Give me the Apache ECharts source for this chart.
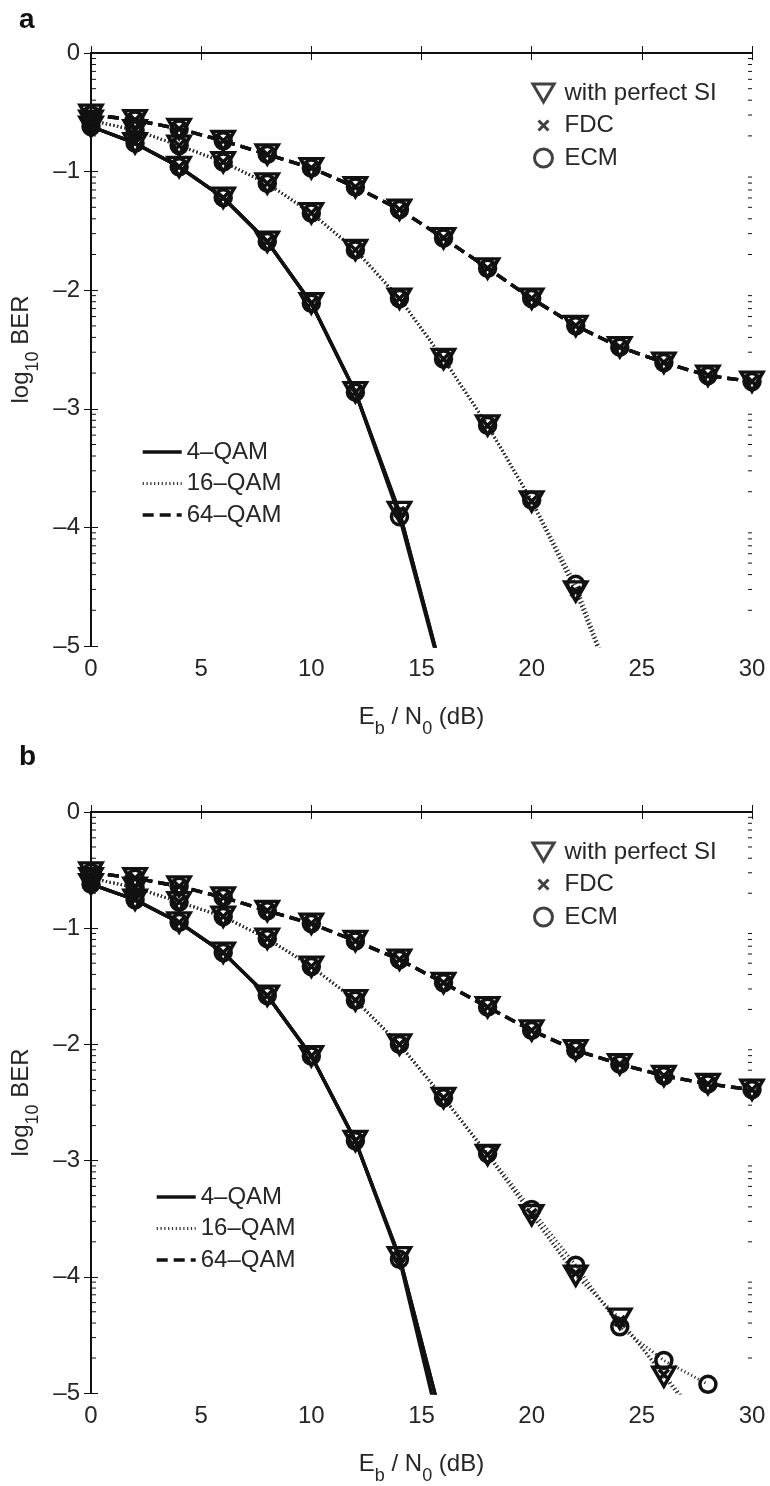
<!DOCTYPE html>
<html><head><meta charset="utf-8">
<script src="https://cdn.jsdelivr.net/npm/echarts@6/dist/echarts.min.js"></script>
<style>html,body{margin:0;padding:0;background:#fff}#c{width:770px;height:1486px}</style>
</head><body><div id="c"></div>
<script>
// ---------- data ----------
const EBN0 = [0, 2, 4, 6, 8, 10, 12, 14, 16, 18, 20, 22, 24, 26, 28, 30];
const X_MIN = 0, X_MAX = 30, X_STEP = 5;
const Y_MIN = -5, Y_MAX = 0, Y_STEP = 1;
const LOG_MINOR_FRAC = [0.301, 0.477, 0.602, 0.699, 0.778, 0.845, 0.903, 0.954];
const METHODS = ['with perfect SI', 'FDC', 'ECM'];
const MODS = ['4–QAM', '16–QAM', '64–QAM'];
const N = null;

// panel a
const A_4QAM_SI   = [-0.62, -0.76, -0.96, -1.22, -1.59, -2.11, -2.86, -3.87, -5.28, N, N, N, N, N, N, N];
const A_4QAM_FDC  = [-0.62, -0.76, -0.96, -1.22, -1.59, -2.11, -2.86, -3.87, -5.28, N, N, N, N, N, N, N];
const A_4QAM_ECM  = [-0.62, -0.76, -0.96, -1.22, -1.59, -2.11, -2.86, -3.91, -5.30, N, N, N, N, N, N, N];
const A_16QAM_SI  = [-0.57, -0.65, -0.78, -0.92, -1.10, -1.35, -1.66, -2.07, -2.58, -3.14, -3.78, -4.54, -5.50, N, N, N];
const A_16QAM_FDC = [-0.57, -0.65, -0.78, -0.92, -1.10, -1.35, -1.66, -2.07, -2.58, -3.14, -3.78, -4.54, -5.50, N, N, N];
const A_16QAM_ECM = [-0.57, -0.65, -0.78, -0.92, -1.10, -1.35, -1.66, -2.07, -2.58, -3.14, -3.77, -4.48, -5.48, N, N, N];
const A_64QAM_SI  = [-0.52, -0.565, -0.64, -0.74, -0.855, -0.97, -1.13, -1.32, -1.56, -1.815, -2.07, -2.30, -2.48, -2.61, -2.72, -2.77];
const A_64QAM_FDC = [-0.52, -0.565, -0.64, -0.74, -0.855, -0.97, -1.13, -1.32, -1.56, -1.815, -2.07, -2.30, -2.48, -2.61, -2.72, -2.77];
const A_64QAM_ECM = [-0.52, -0.565, -0.64, -0.74, -0.855, -0.97, -1.13, -1.32, -1.56, -1.815, -2.07, -2.30, -2.48, -2.61, -2.72, -2.77];

// panel b
const B_4QAM_SI   = [-0.62, -0.755, -0.95, -1.21, -1.58, -2.10, -2.83, -3.83, -5.29, N, N, N, N, N, N, N];
const B_4QAM_FDC  = [-0.62, -0.755, -0.95, -1.21, -1.58, -2.10, -2.83, -3.83, -5.29, N, N, N, N, N, N, N];
const B_4QAM_ECM  = [-0.62, -0.755, -0.95, -1.21, -1.58, -2.10, -2.83, -3.85, -5.44, N, N, N, N, N, N, N];
const B_16QAM_SI  = [-0.57, -0.65, -0.775, -0.90, -1.09, -1.33, -1.62, -2.00, -2.46, -2.95, -3.47, -3.99, -4.36, -4.86, -5.33, N];
const B_16QAM_FDC = [-0.57, -0.65, -0.775, -0.90, -1.09, -1.33, -1.62, -2.00, -2.46, -2.95, -3.46, -3.97, -4.38, -4.84, -5.30, N];
const B_16QAM_ECM = [-0.57, -0.65, -0.775, -0.90, -1.09, -1.33, -1.62, -2.00, -2.46, -2.94, -3.42, -3.90, -4.43, -4.72, -4.925, N];
const B_64QAM_SI  = [-0.52, -0.57, -0.64, -0.735, -0.85, -0.96, -1.11, -1.27, -1.47, -1.68, -1.88, -2.05, -2.17, -2.27, -2.34, -2.39];
const B_64QAM_FDC = [-0.52, -0.57, -0.64, -0.735, -0.85, -0.96, -1.11, -1.27, -1.47, -1.68, -1.88, -2.05, -2.17, -2.27, -2.34, -2.39];
const B_64QAM_ECM = [-0.52, -0.57, -0.64, -0.735, -0.85, -0.96, -1.11, -1.27, -1.47, -1.68, -1.88, -2.05, -2.17, -2.27, -2.34, -2.39];

const PANELS = [
  {label: 'a', data: [[A_4QAM_SI, A_4QAM_FDC, A_4QAM_ECM], [A_16QAM_SI, A_16QAM_FDC, A_16QAM_ECM], [A_64QAM_SI, A_64QAM_FDC, A_64QAM_ECM]]},
  {label: 'b', data: [[B_4QAM_SI, B_4QAM_FDC, B_4QAM_ECM], [B_16QAM_SI, B_16QAM_FDC, B_16QAM_ECM], [B_64QAM_SI, B_64QAM_FDC, B_64QAM_ECM]]}
];

// ---------- styles ----------
const FONT = 'Liberation Sans, Arial, Helvetica, sans-serif';
const INK = '#111111';
const TXT = '#262626';
const GRIDS = [
  {left: 91, top: 53, width: 661, height: 593},
  {left: 91, top: 812, width: 661, height: 593}
];
const TITLE_POS = [{left: 19, top: 6}, {left: 19, top: 743}];
const LEG1_POS = [{left: 526, top: 81}, {left: 526, top: 840}];
const LEG2_POS = [{left: 141, top: 440}, {left: 155, top: 1185}];

const MOD_LINE = [
  {color: INK, width: 3.4, type: 'solid'},
  {color: '#333', width: 3, type: [1.2, 2.6], cap: 'butt'},
  {color: INK, width: 3.4, type: [11, 6]}
];
const MARK = [
  {symbol: 'path://M0,0L20,0L10,17Z', size: [22, 19]},
  {symbol: 'path://M0,0L10,10M10,0L0,10', size: [10, 10]},
  {symbol: 'circle', size: 16}
];
const LEG_MARK = [
  'path://M0,0L20,0L10,17Z',
  'path://M-11,-4M21,14M0,0L10,10M10,0L0,10',
  'path://M-7,0M25,0M0,9A9,9,0,1,1,18,9A9,9,0,1,1,0,9Z'
];
const HOLLOW = {color: 'rgba(0,0,0,0)', borderColor: INK, borderWidth: 3.5};

const fmtY = v => String(v).replace('-', '–');
const richName = {
  n: {fontSize: 24, color: TXT, fontFamily: FONT},
  s: {fontSize: 18, color: TXT, fontFamily: FONT, padding: [24, 0, 0, 0]}
};

const minorData = [];
for (let d = Y_MIN; d < Y_MAX; d++) LOG_MINOR_FRAC.forEach(f => minorData.push([X_MIN, d + f]));

function minorTicks(params, api) {
  const v = api.value(1);
  const pL = api.coord([X_MIN, v]);
  const pR = api.coord([X_MAX, v]);
  const st = {stroke: INK, lineWidth: 1};
  return {type: 'group', children: [
    {type: 'line', shape: {x1: pL[0] + 1, y1: pL[1], x2: pL[0] + 5, y2: pL[1]}, style: st},
    {type: 'line', shape: {x1: pR[0], y1: pR[1], x2: pR[0] - 4, y2: pR[1]}, style: st}
  ]};
}

const title = [], grid = [], xAxis = [], yAxis = [], series = [], legend = [];

PANELS.forEach((p, gi) => {
  title.push({text: p.label, left: TITLE_POS[gi].left, top: TITLE_POS[gi].top, padding: 0,
    textStyle: {fontSize: 28, fontWeight: 'bold', color: '#111', fontFamily: FONT}});
  grid.push(Object.assign({containLabel: false}, GRIDS[gi]));
  const axLine = {show: true, lineStyle: {color: INK, width: 2}};
  const tick = {show: true, inside: true, length: 7, lineStyle: {color: INK, width: 1}};
  xAxis.push({
    gridIndex: gi, type: 'value', min: X_MIN, max: X_MAX, interval: X_STEP, position: 'bottom',
    axisLine: axLine, axisTick: tick, splitLine: {show: false},
    axisLabel: {fontSize: 24, color: TXT, fontFamily: FONT, margin: 11},
    name: '{n|E}{s|b}{n| / N}{s|0}{n| (dB)}', nameLocation: 'middle', nameGap: 50,
    nameTextStyle: {rich: richName}
  });
  xAxis.push({
    gridIndex: gi, type: 'value', min: X_MIN, max: X_MAX, interval: X_STEP, position: 'top',
    axisLine: {show: true, lineStyle: {color: INK, width: 1.5}}, axisTick: tick,
    axisLabel: {show: false}, splitLine: {show: false}
  });
  yAxis.push({
    gridIndex: gi, type: 'value', min: Y_MIN, max: Y_MAX, interval: Y_STEP, position: 'left',
    axisLine: axLine, axisTick: tick, splitLine: {show: false},
    axisLabel: {fontSize: 24, color: TXT, fontFamily: FONT, margin: 11, formatter: fmtY},
    name: '{n|log}{s|10}{n| BER}', nameLocation: 'middle', nameGap: 30, nameRotate: 90,
    nameTextStyle: {rich: richName}
  });
  yAxis.push({
    gridIndex: gi, type: 'value', min: Y_MIN, max: Y_MAX, interval: Y_STEP, position: 'right',
    axisLine: {show: true, lineStyle: {color: INK, width: 1.5}}, axisTick: tick,
    axisLabel: {show: false}, splitLine: {show: false}
  });
  const xi = gi * 2, yi = gi * 2;
  series.push({type: 'custom', name: 'minor' + gi, xAxisIndex: xi, yAxisIndex: yi, silent: true,
    renderItem: minorTicks, data: minorData, z: 1});
  p.data.forEach((mod, mi) => {
    mod.forEach((vals, ki) => {
      series.push({
        type: 'line', name: p.label + '-' + MODS[mi] + '-' + METHODS[ki],
        xAxisIndex: xi, yAxisIndex: yi, clip: true, animation: false, silent: true,
        data: EBN0.map((x, i) => [x, vals[i]]),
        symbol: MARK[ki].symbol, symbolSize: MARK[ki].size, showAllSymbol: true,
        lineStyle: MOD_LINE[mi], itemStyle: HOLLOW, z: 3
      });
    });
  });
  legend.push({
    orient: 'vertical', left: LEG1_POS[gi].left, top: LEG1_POS[gi].top, itemWidth: 32, itemHeight: 18,
    itemGap: 8.5, selectedMode: false, padding: 0,
    textStyle: {fontSize: 24, color: TXT, fontFamily: FONT},
    itemStyle: {color: 'rgba(0,0,0,0)', borderColor: INK, borderWidth: 3},
    data: METHODS
  });
  legend.push({
    orient: 'vertical', left: LEG2_POS[gi].left, top: LEG2_POS[gi].top, itemWidth: 39, itemHeight: 14,
    itemGap: 7.5, selectedMode: false, padding: 0,
    textStyle: {fontSize: 24, color: TXT, fontFamily: FONT},
    data: MODS.map((m, mi) => ({name: m, itemStyle: {opacity: 0}, lineStyle: {width: MOD_LINE[mi].width}}))
  });
});

// legend-only series (no data)
METHODS.forEach((m, ki) => series.push({
  type: 'scatter', name: m, xAxisIndex: 0, yAxisIndex: 0, data: [],
  symbol: LEG_MARK[ki], symbolKeepAspect: true, itemStyle: HOLLOW
}));
MODS.forEach((m, mi) => series.push({
  type: 'line', name: m, xAxisIndex: 0, yAxisIndex: 0, data: [],
  symbol: 'circle', lineStyle: MOD_LINE[mi], itemStyle: {color: INK}
}));

const chart = echarts.init(document.getElementById('c'), null, {renderer: 'canvas'});
chart.setOption({backgroundColor: '#fff', animation: false, title, grid, xAxis, yAxis, series, legend});
</script>
</body></html>
